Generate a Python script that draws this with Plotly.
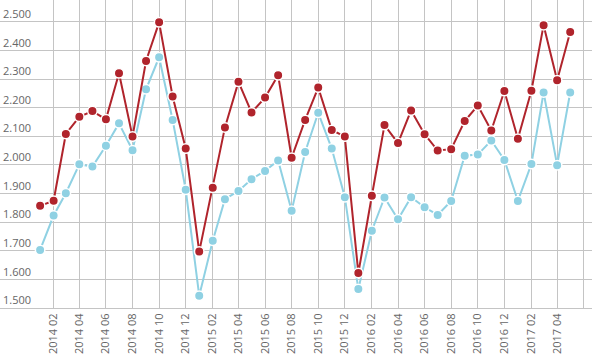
import pandas as pd
import plotly.graph_objects as go

# Data, monthly 2014-01 .. 2017-05
start_month = "2014-01-01"
red_values = [1857, 1875, 2108, 2168, 2188, 2159, 2320, 2099, 2363, 2498, 2239, 2057,
              1697, 1920, 2131, 2290, 2183, 2235, 2313, 2025, 2157, 2270, 2122, 2099,
              1622, 1892, 2139, 2076, 2190, 2107, 2050, 2055, 2153, 2207, 2120, 2258,
              2091, 2259, 2488, 2296, 2464]
blue_values = [1703, 1823, 1901, 2002, 1994, 2067, 2145, 2051, 2264, 2376, 2157, 1913,
               1543, 1735, 1880, 1909, 1950, 1979, 2015, 1840, 2045, 2182, 2057, 1887,
               1566, 1770, 1886, 1810, 1887, 1852, 1825, 1874, 2032, 2036, 2085, 2017,
               1874, 2003, 2253, 1999, 2253]
tick_dates = ["2014-02-01", "2014-04-01", "2014-06-01", "2014-08-01", "2014-10-01", "2014-12-01",
              "2015-02-01", "2015-04-01", "2015-06-01", "2015-08-01", "2015-10-01", "2015-12-01",
              "2016-02-01", "2016-04-01", "2016-06-01", "2016-08-01", "2016-10-01", "2016-12-01",
              "2017-02-01", "2017-04-01", "2017-06-01"]
tick_labels = ["2014 02", "2014 04", "2014 06", "2014 08", "2014 10", "2014 12",
               "2015 02", "2015 04", "2015 06", "2015 08", "2015 10", "2015 12",
               "2016 02", "2016 04", "2016 06", "2016 08", "2016 10", "2016 12",
               "2017 02", "2017 04", ""]

dates = pd.date_range(start_month, periods=len(red_values), freq="MS")

RED = "#b0242c"
BLUE = "#8fd1e3"
GRID = "#c4c4c4"

fig = go.Figure()
fig.add_trace(go.Scatter(
    x=dates, y=blue_values, mode="lines+markers",
    line=dict(color=BLUE, width=2),
    marker=dict(color=BLUE, size=9.5, line=dict(color="white", width=1.5)),
    showlegend=False, cliponaxis=False))
fig.add_trace(go.Scatter(
    x=dates, y=red_values, mode="lines+markers",
    line=dict(color=RED, width=2),
    marker=dict(color=RED, size=9.5, line=dict(color="white", width=1.5)),
    showlegend=False, cliponaxis=False))

fig.update_layout(
    width=600, height=360,
    margin=dict(l=0, r=8, t=0, b=52, autoexpand=False),
    paper_bgcolor="white", plot_bgcolor="white",
    separators=",.",
    font=dict(family="Open Sans", size=11, color="#666666"),
    xaxis=dict(
        type="date", automargin=False,
        range=["2013-10-01", "2017-06-20"],
        tickmode="array", tickvals=tick_dates, ticktext=tick_labels,
        tickangle=-90, showgrid=True, gridcolor=GRID, gridwidth=1,
        showline=True, linecolor=GRID, linewidth=1,
        ticks="", ticklen=0, zeroline=False,
        tickfont=dict(family="Open Sans", size=11, color="#666666"),
    ),
    yaxis=dict(
        automargin=False,
        range=[1500, 2576], dtick=100, tick0=1500,
        tickformat=",d", ticklabelposition="inside top",
        showgrid=True, gridcolor=GRID, gridwidth=1,
        zeroline=False, showline=False, ticks="",
        tickfont=dict(family="Open Sans", size=11, color="#666666"),
    ),
)

fig.write_html("out.html",
               config={"displayModeBar": False, "staticPlot": True},
               post_script="document.body.style.margin='0';document.body.style.overflow='hidden';")
